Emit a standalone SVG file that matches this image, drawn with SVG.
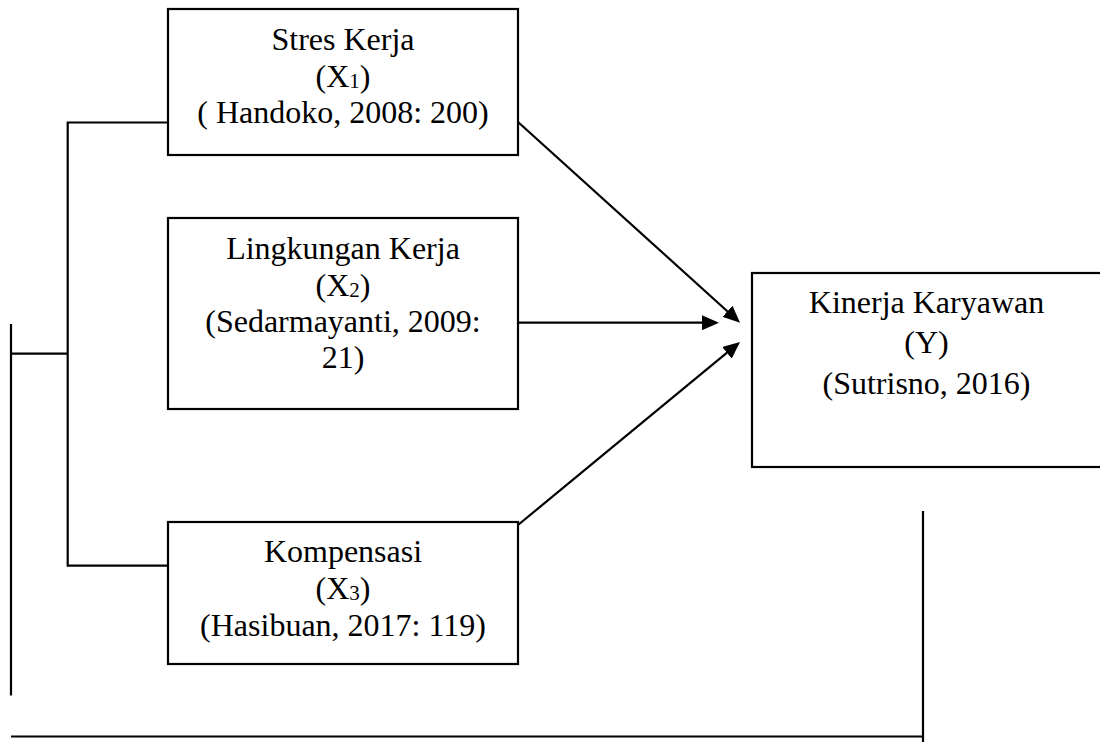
<svg xmlns="http://www.w3.org/2000/svg" width="1100" height="742" viewBox="0 0 1100 742">
<style>
.box{fill:#fff;stroke:#000;stroke-width:2.2}
.ln{fill:none;stroke:#000;stroke-width:2.2}
.sub{font-size:21px}
</style>
<defs>
<marker id="ah" viewBox="0 0 17 15" refX="8" refY="7.5" markerWidth="17" markerHeight="15" orient="auto" markerUnits="userSpaceOnUse">
<path d="M0,0 L17,7.5 L0,15 Z" fill="#000"/>
</marker>
</defs>
<rect width="1100" height="742" fill="#fff"/>
<g id="connectors">
<polyline class="ln" points="168,122.5 67.7,122.5 67.7,565.7 168,565.7"/>
<line class="ln" x1="11" y1="353.7" x2="67.7" y2="353.7"/>
<line class="ln" x1="11" y1="324" x2="11" y2="695.5"/>
<line class="ln" x1="11" y1="736.5" x2="924" y2="736.5"/>
<line class="ln" x1="923" y1="511" x2="923" y2="742"/>
<line class="ln" x1="518" y1="122" x2="733.4" y2="316.7" marker-end="url(#ah)"/>
<line class="ln" x1="518" y1="322.7" x2="710" y2="322.7" marker-end="url(#ah)"/>
<line class="ln" x1="518" y1="525" x2="733.1" y2="347.7" marker-end="url(#ah)"/>
</g>
<g font-family="'Liberation Serif', 'DejaVu Serif', 'Times New Roman', serif" font-size="32" fill="#000" text-anchor="middle">
<g id="stres-kerja">
<rect class="box" x="168" y="9" width="350" height="146"/>
<text x="343" y="50">Stres Kerja</text>
<text x="343" y="87">(X<tspan class="sub" dy="1">1</tspan><tspan dy="-1">)</tspan></text>
<text x="343" y="123">( Handoko, 2008: 200)</text>
</g>
<g id="lingkungan-kerja">
<rect class="box" x="168" y="218" width="350" height="191"/>
<text x="343" y="259">Lingkungan Kerja</text>
<text x="343" y="296">(X<tspan class="sub" dy="1">2</tspan><tspan dy="-1">)</tspan></text>
<text x="343" y="332">(Sedarmayanti, 2009:</text>
<text x="343" y="368">21)</text>
</g>
<g id="kompensasi">
<rect class="box" x="168" y="522" width="350" height="142"/>
<text x="343" y="562">Kompensasi</text>
<text x="343" y="599">(X<tspan class="sub" dy="1">3</tspan><tspan dy="-1">)</tspan></text>
<text x="343" y="636">(Hasibuan, 2017: 119)</text>
</g>
<g id="kinerja-karyawan">
<rect class="box" x="752" y="273" width="350" height="194"/>
<text x="926.5" y="313">Kinerja Karyawan</text>
<text x="926.5" y="353">(Y)</text>
<text x="926.5" y="394">(Sutrisno, 2016)</text>
</g>
</g>
</svg>
